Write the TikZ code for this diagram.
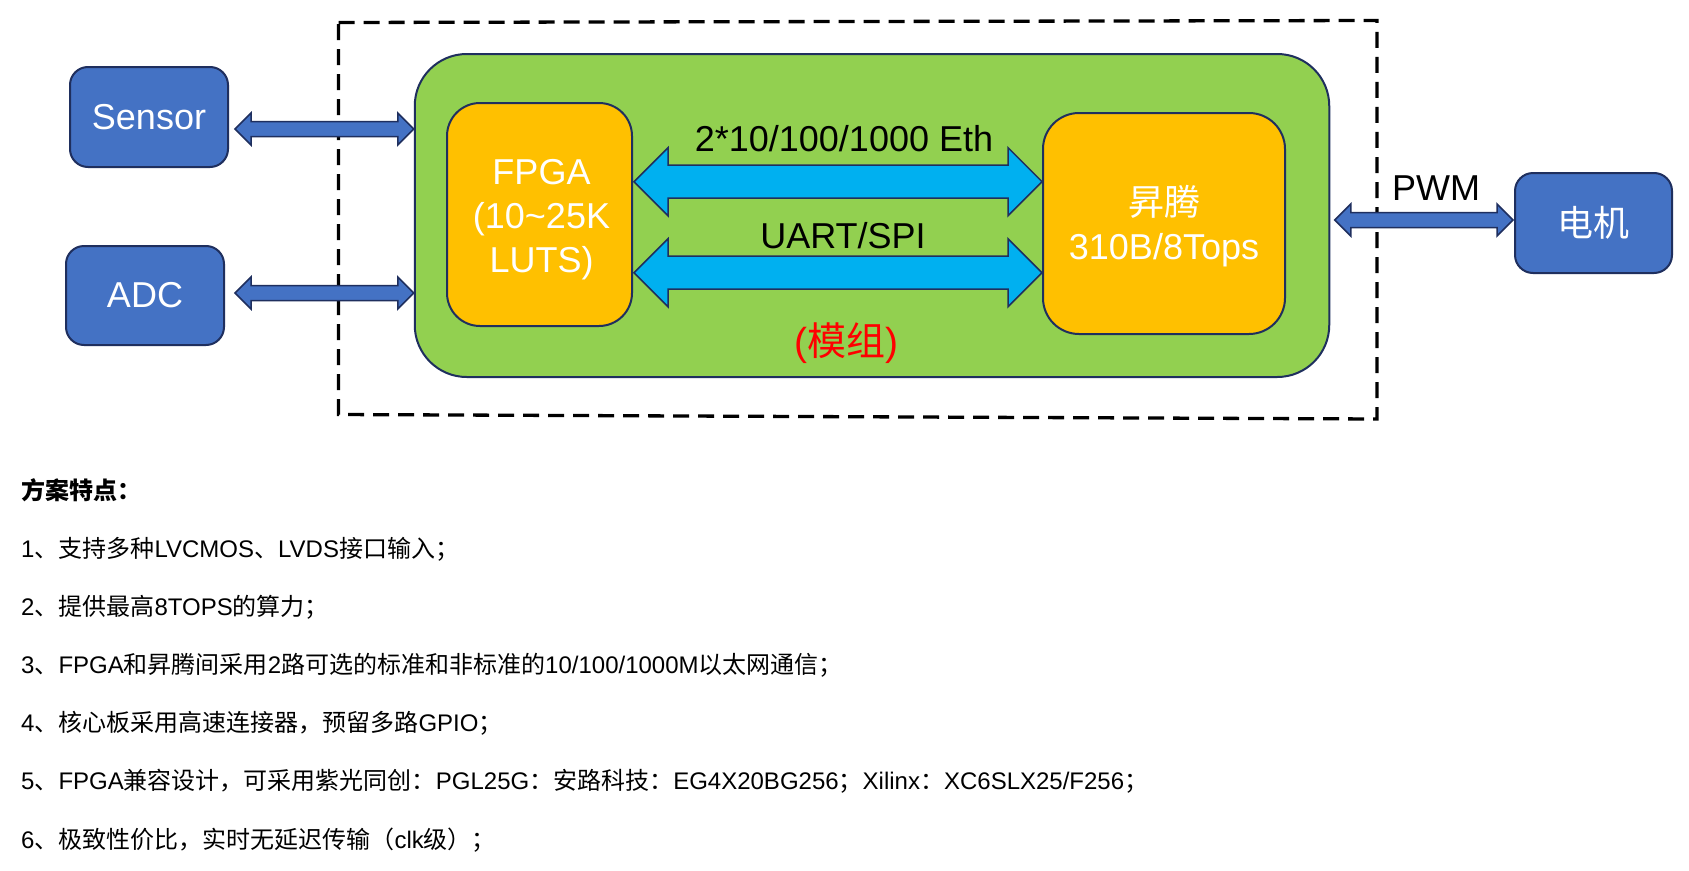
\documentclass[tikz,border=0pt]{standalone}
\usepackage{fontspec}
\setmainfont{Liberation Sans}
\newfontfamily\cjk{Noto Sans CJK SC}
\usetikzlibrary{calc}
\newcommand\zh[1]{{\cjk #1}}
\definecolor{nodeblue}{HTML}{4472C4}
\definecolor{edgeblue}{HTML}{1F2F5E}
\definecolor{modgreen}{HTML}{92D050}
\definecolor{chiporange}{HTML}{FFC000}
\definecolor{busblue}{HTML}{00B0F0}
\newcommand\dblarr[6]{%
  \draw[#1] let \p1=(#2), \p2=(#3) in
   (\x1,\y1) -- (\x1+#6pt,\y1+#5pt) -- (\x1+#6pt,\y1+#4pt) -- (\x2-#6pt,\y1+#4pt)
   -- (\x2-#6pt,\y1+#5pt) -- (\x2,\y1) -- (\x2-#6pt,\y1-#5pt) -- (\x2-#6pt,\y1-#4pt)
   -- (\x1+#6pt,\y1-#4pt) -- (\x1+#6pt,\y1-#5pt) -- cycle;}
\tikzset{
  bluebox/.style={draw=edgeblue, line width=2pt, rounded corners=18pt, fill=nodeblue,
    text=white, font=\fontsize{36}{42}\selectfont, minimum width=158pt,
    minimum height=100pt, inner sep=0pt},
  modbox/.style={draw=edgeblue, line width=2pt, fill=modgreen, inner sep=0pt},
  chipbox/.style={draw=edgeblue, line width=2pt, fill=chiporange, inner sep=0pt},
  chiptext/.style={text=white, align=center, inner sep=0pt, font=\fontsize{36}{44}\selectfont},
  thinarrow/.style={draw=edgeblue, line width=1.5pt, fill=nodeblue, line join=miter},
  busarrow/.style={draw=edgeblue, line width=1.5pt, fill=busblue, line join=miter},
  lbl/.style={font=\fontsize{36}{42}\selectfont, text=black, inner sep=0pt},
  dashbox/.style={draw=black, line width=3.3pt, dash pattern=on 16pt off 9pt},
  body/.style={font=\fontsize{24}{28}\selectfont, text=black, inner sep=0pt, anchor=base west}
}
\begin{document}
\begin{tikzpicture}[x=1pt,y=-1pt]
\fill[white] (0,0) rectangle (1689,870);
\useasboundingbox (0,0) rectangle (1689,870);
% dashed frame
\draw[dashbox] (338.5,22.5) -- (1377,20.5) -- (1377,419) -- (338.5,414.5) -- cycle;
% module
\node[modbox, rounded corners=52pt, minimum width=914.5pt, minimum height=323pt] (module) at (872,215.5) {};
\node[chipbox, rounded corners=33pt, minimum width=185pt, minimum height=223pt,
  label={[chiptext, xshift=2pt, yshift=-5pt]center:{FPGA\\(10\textasciitilde25K\\LUTS)}}] (fpga) at (539.5,214.5) {};
\node[chipbox, rounded corners=36pt, minimum width=242pt, minimum height=221pt,
  label={[chiptext, yshift=-3pt]center:{\zh{昇腾}\\310B/8Tops}}] (ascend) at (1164,223.5) {};
\node[lbl, text=red, font=\fontsize{39}{44}\selectfont] (modlabel) at (846,343) {(\zh{模组})};
% outer boxes
\node[bluebox] (sensor) at (149,117) {\raisebox{-2pt}{Sensor}};
\node[bluebox, minimum height=99pt] (adc) at (145,295.5) {\raisebox{-2pt}{ADC}};
\node[bluebox, minimum width=157pt] (motor) at (1593.5,223) {\raisebox{-1pt}{\zh{电机}}};
% connector ends
\coordinate (sL) at ($(sensor.east)+(6,12)$);
\coordinate (sR) at (module.west |- sL);
\coordinate (aL) at ($(adc.east)+(10,-2.5)$);
\coordinate (aR) at (module.west |- aL);
\coordinate (pR) at ($(motor.west)+(-1,-3)$);
\coordinate (pL) at ($(module.east |- pR)+(4.5,0)$);
\coordinate (eL) at ($(fpga.east)+(1,-32.8)$);
\coordinate (eR) at (ascend.west |- eL);
\coordinate (uL) at ($(fpga.east)+(1,58.2)$);
\coordinate (uR) at (ascend.west |- uL);
% arrows
\dblarr{thinarrow}{sL}{sR}{7.5}{16}{16}
\dblarr{thinarrow}{aL}{aR}{7.5}{16}{16}
\dblarr{thinarrow}{pL}{pR}{7.5}{16}{16}
\dblarr{busarrow}{eL}{eR}{16.5}{34}{34}
\dblarr{busarrow}{uL}{uR}{16.5}{34}{34}
% labels
\node[lbl, anchor=base] (ethlabel) at (844,151) {2*10/100/1000 Eth};
\node[lbl, anchor=base] (uartlabel) at (843,248) {UART/SPI};
\node[lbl, anchor=base] (pwmlabel) at (1436,200) {PWM};
% text
\node[body] (t0) at (21,499.5) {\zh{\bfseries 方案特点：}};
\node[body] (t1) at (21,557.5) {1\zh{、支持多种}LVCMOS\zh{、}LVDS\zh{接口输入；}};
\node[body] (t2) at (21,615.5) {2\zh{、提供最高}8TOPS\zh{的算力；}};
\node[body] (t3) at (21,673.5) {3\zh{、}FPGA\zh{和昇腾间采用}2\zh{路可选的标准和非标准的}10/100/1000M\zh{以太网通信；}};
\node[body] (t4) at (21,731.5) {4\zh{、核心板采用高速连接器，预留多路}GPIO\zh{；}};
\node[body] (t5) at (21,789.5) {5\zh{、}FPGA\zh{兼容设计，可采用紫光同创：}PGL25G\zh{：安路科技：}EG4X20BG256\zh{；}Xilinx\zh{：}XC6SLX25/F256\zh{；}};
\node[body] (t6) at (21,848) {6\zh{、极致性价比，实时无延迟传输（}clk\zh{级）；}};
\end{tikzpicture}
\end{document}
